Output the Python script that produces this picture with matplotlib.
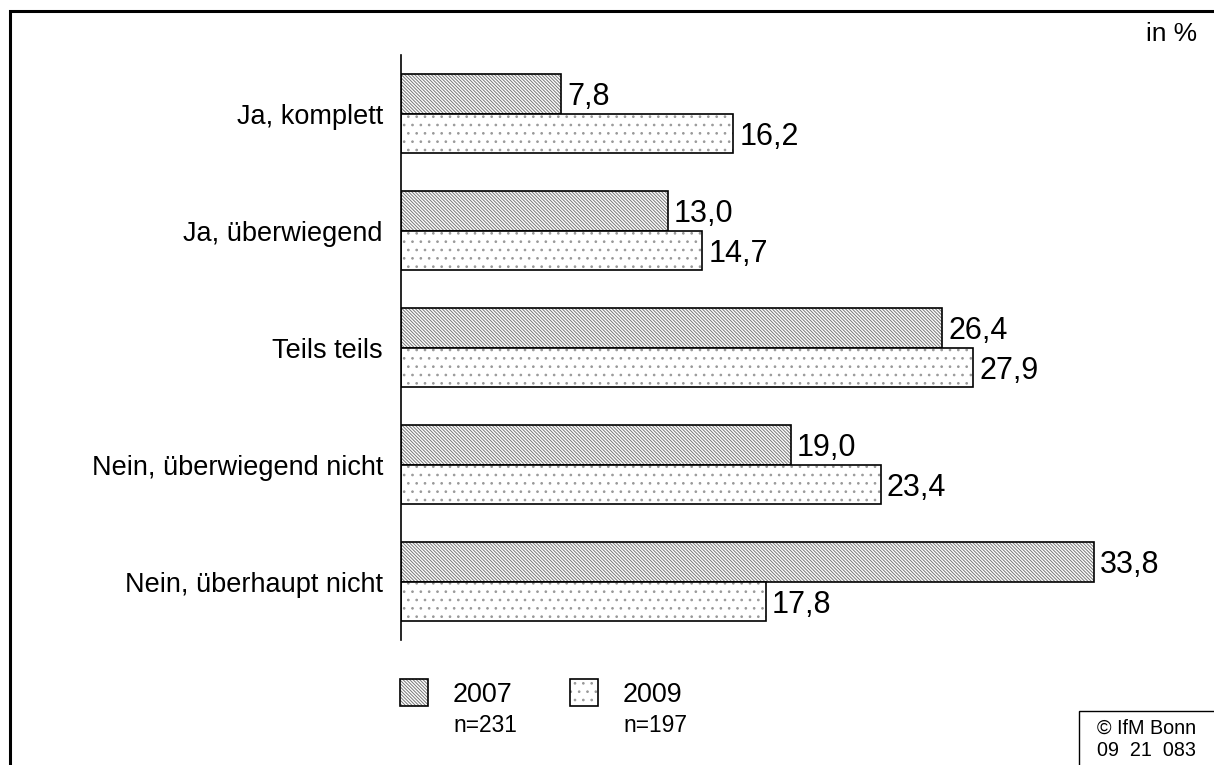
import matplotlib
matplotlib.use("Agg")
import matplotlib.pyplot as plt
from matplotlib.patches import Rectangle

plt.rcParams['font.family'] = ['Liberation Sans', 'DejaVu Sans']
plt.rcParams['hatch.linewidth'] = 0.7

categories = ['Ja, komplett', 'Ja, überwiegend', 'Teils teils',
              'Nein, überwiegend nicht', 'Nein, überhaupt nicht']
values_2007 = [7.8, 13.0, 26.4, 19.0, 33.8]
values_2009 = [16.2, 14.7, 27.9, 23.4, 17.8]
series_labels = ['2007', '2009']
series_n = ['n=231', 'n=197']

W, H = 1214, 765
fig = plt.figure(figsize=(W / 100, H / 100), dpi=100)

# axes placed in pixel terms: left edge 401, top 55, bottom 640
px_per_unit = 20.5
xmax = 39
ax = fig.add_axes([401 / W, 1 - 640 / H, xmax * px_per_unit / W, 585 / H])

hatches = ['\\' * 10, '..']
hcolor = ['#777777', '#999999']
bh = 0.335
ypos = list(range(len(categories)))

for k, vals in enumerate([values_2007, values_2009]):
    y = [p - bh / 2 + k * bh for p in ypos]
    # hatch layer (hatch colour follows edgecolor), then black outline
    ax.barh(y, vals, height=bh, color='white', edgecolor=hcolor[k],
            hatch=hatches[k], linewidth=0)
    ax.barh(y, vals, height=bh, color='none', edgecolor='black', linewidth=1.2)
    for yy, v in zip(y, vals):
        ax.text(v + 0.3, yy, f'{v:.1f}'.replace('.', ','), va='center_baseline',
                ha='left', fontsize=22)

ax.set_xlim(0, xmax)
ax.set_ylim(len(categories) - 0.5, -0.5)
for s in ['top', 'right', 'bottom']:
    ax.spines[s].set_visible(False)
ax.spines['left'].set_linewidth(1.2)
ax.set_xticks([])
ax.set_yticks(ypos)
ax.set_yticklabels(categories, fontsize=19.5)
ax.tick_params(axis='y', length=0, pad=13)

# legend drawn by hand
for k, x0 in enumerate([400, 570]):
    fig.patches.append(Rectangle((x0 / W, 1 - 706 / H), 28 / W, 27 / H,
                                 transform=fig.transFigure, facecolor='white',
                                 edgecolor=hcolor[k], hatch=hatches[k],
                                 linewidth=0))
    fig.patches.append(Rectangle((x0 / W, 1 - 706 / H), 28 / W, 27 / H,
                                 transform=fig.transFigure, facecolor='none',
                                 edgecolor='black', linewidth=1.2))
    fig.text((x0 + 53) / W, 1 - 695 / H, series_labels[k], fontsize=19.4,
             va='center', ha='left')
    fig.text((x0 + 53) / W, 1 - 725 / H, series_n[k], fontsize=16.4,
             va='center', ha='left')

fig.text(1197 / W, 1 - 34 / H, 'in %', fontsize=18.9, ha='right', va='center')

# copyright box in bottom right corner
fig.patches.append(Rectangle((1079 / W, -0.05), 0.2, 1 - 711 / H + 0.05,
                             transform=fig.transFigure, facecolor='white',
                             edgecolor='black', linewidth=1.0))
fig.text(1097 / W, 1 - 728 / H, '© IfM Bonn', fontsize=14.2, va='center')
fig.text(1097 / W, 1 - 750 / H, '09  21  083', fontsize=14.2, va='center')

# outer frame, running off the right and bottom edges
fig.patches.append(Rectangle((9.5 / W, -0.05), 1.0, 1 - 11.5 / H + 0.05,
                             transform=fig.transFigure, facecolor='none',
                             edgecolor='black', linewidth=2.2))

fig.savefig('out.png', dpi=100)
